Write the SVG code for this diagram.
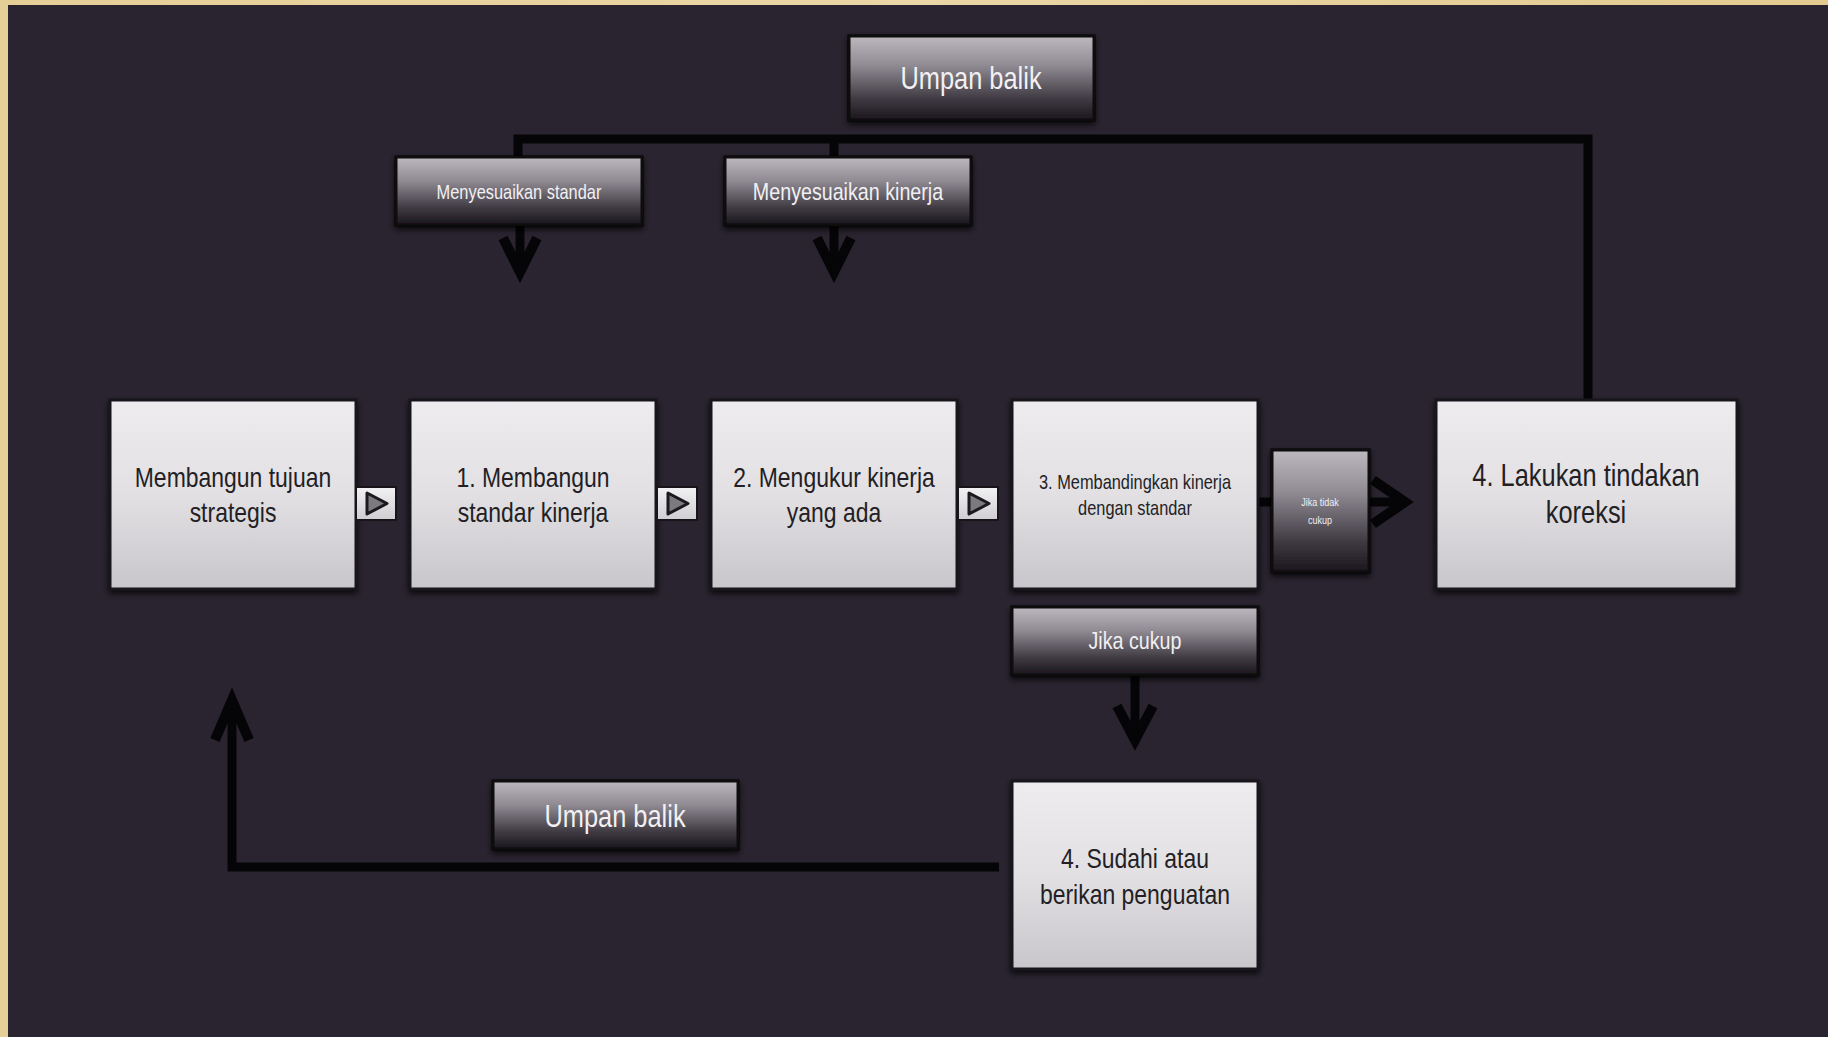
<svg xmlns="http://www.w3.org/2000/svg" width="1828" height="1037" viewBox="0 0 1828 1037">
<defs>
<linearGradient id="gLight" x1="0" y1="0" x2="0" y2="1">
<stop offset="0" stop-color="#eeecef"/>
<stop offset="0.5" stop-color="#e2e0e3"/>
<stop offset="1" stop-color="#c9c6cb"/>
</linearGradient>
<linearGradient id="gDark" x1="0" y1="0" x2="0" y2="1">
<stop offset="0" stop-color="#bdb9bf"/>
<stop offset="0.35" stop-color="#908b93"/>
<stop offset="0.75" stop-color="#3f3a42"/>
<stop offset="1" stop-color="#1a161c"/>
</linearGradient>
<linearGradient id="gBtn" x1="0" y1="0" x2="0" y2="1">
<stop offset="0" stop-color="#f2f1f3"/>
<stop offset="1" stop-color="#cfcdd1"/>
</linearGradient>
<linearGradient id="gTan" x1="0" y1="0" x2="1" y2="0">
<stop offset="0" stop-color="#e6cf97"/>
<stop offset="0.5" stop-color="#ead6a6"/>
<stop offset="1" stop-color="#e3cb90"/>
</linearGradient>
<filter id="sh" x="-10%" y="-10%" width="120%" height="125%">
<feDropShadow dx="0" dy="3" stdDeviation="3" flood-color="#000" flood-opacity="0.8"/>
</filter>
</defs>
<style>
.main{fill:url(#gLight);stroke:#18141a;stroke-width:3;filter:url(#sh)}
.dark{fill:url(#gDark);stroke:#0c0a0d;stroke-width:3;filter:url(#sh)}
.btn{fill:url(#gBtn);stroke:#18141a;stroke-width:2}
.tri{fill:#7c7a7f;stroke:#1c181e;stroke-width:3;stroke-linejoin:round}
.tm{font-family:"Liberation Sans",Arial,sans-serif;fill:#231f25;text-anchor:middle}
.tw{font-family:"Liberation Sans",Arial,sans-serif;fill:#f2f0f3;text-anchor:middle}
.ln{fill:none;stroke:#050406;stroke-width:9;stroke-linejoin:miter}
.ah{fill:none;stroke:#050406;stroke-width:10;stroke-linejoin:miter;stroke-linecap:butt}
</style>
<rect x="0" y="0" width="1828" height="1037" fill="url(#gTan)"/>
<rect x="8" y="5" width="1820" height="1032" fill="#2a2430"/>

<g id="connectors">
<path class="ln" d="M518,161 V139 H1588 V400"/>
<path class="ln" d="M834,161 V139"/>
<path class="ln" d="M520,225 V272"/>
<path class="ah" d="M503,238 L520,272 L537,238"/>
<path class="ln" d="M834,225 V272"/>
<path class="ah" d="M817,238 L834,272 L851,238"/>
<path class="ln" d="M1258,502 H1275"/>
<path class="ln" d="M1369,502 H1402"/>
<path class="ah" d="M1373,480 L1405,502 L1373,524"/>
<path class="ln" d="M1135,675 V740"/>
<path class="ah" d="M1117,706 L1135,740 L1153,706"/>
<path class="ln" d="M999,867 H232 V700"/>
<path class="ah" d="M215,740 L232,700 L249,740"/>
</g>

<g id="n-umpan-top"><rect class="dark" x="849" y="36" width="245" height="84"/><text class="tw" transform="translate(971 89) scale(0.82 1)" font-size="31">Umpan balik</text></g>
<g id="n-sesuai-standar"><rect class="dark" x="396" y="157" width="246" height="68"/><text class="tw" transform="translate(519 199) scale(0.82 1)" font-size="20">Menyesuaikan standar</text></g>
<g id="n-sesuai-kinerja"><rect class="dark" x="725" y="157" width="246" height="68"/><text class="tw" transform="translate(848 200) scale(0.82 1)" font-size="24">Menyesuaikan kinerja</text></g>

<g id="n-tujuan"><rect class="main" x="110" y="400" width="246" height="189"/><text class="tm" transform="translate(233 487) scale(0.82 1)" font-size="28">Membangun tujuan</text><text class="tm" transform="translate(233 522) scale(0.82 1)" font-size="28">strategis</text></g>
<g id="n-standar"><rect class="main" x="410" y="400" width="246" height="189"/><text class="tm" transform="translate(533 487) scale(0.82 1)" font-size="28">1. Membangun</text><text class="tm" transform="translate(533 522) scale(0.82 1)" font-size="28">standar kinerja</text></g>
<g id="n-mengukur"><rect class="main" x="711" y="400" width="246" height="189"/><text class="tm" transform="translate(834 487) scale(0.82 1)" font-size="28">2. Mengukur kinerja</text><text class="tm" transform="translate(834 522) scale(0.82 1)" font-size="28">yang ada</text></g>
<g id="n-banding"><rect class="main" x="1012" y="400" width="246" height="189"/><text class="tm" transform="translate(1135 489) scale(0.82 1)" font-size="20">3. Membandingkan kinerja</text><text class="tm" transform="translate(1135 515) scale(0.82 1)" font-size="20">dengan standar</text></g>
<g id="n-koreksi"><rect class="main" x="1436" y="400" width="301" height="189"/><text class="tm" transform="translate(1586 486) scale(0.82 1)" font-size="31">4. Lakukan tindakan</text><text class="tm" transform="translate(1586 523) scale(0.82 1)" font-size="31">koreksi</text></g>

<g id="b1"><rect class="btn" x="356" y="487" width="40" height="33"/><path class="tri" d="M367,493 L387,503.5 L367,514 Z"/></g>
<g id="b2"><rect class="btn" x="657" y="487" width="40" height="33"/><path class="tri" d="M668,493 L688,503.5 L668,514 Z"/></g>
<g id="b3"><rect class="btn" x="958" y="487" width="40" height="33"/><path class="tri" d="M969,493 L989,503.5 L969,514 Z"/></g>

<g id="n-tidak-cukup"><rect class="dark" x="1272" y="450" width="97" height="122" stroke="#9a969c" stroke-width="2"/><text class="tw" transform="translate(1320 506) scale(0.82 1)" font-size="11">Jika tidak</text><text class="tw" transform="translate(1320 524) scale(0.82 1)" font-size="11">cukup</text></g>
<g id="n-cukup"><rect class="dark" x="1012" y="607" width="246" height="68"/><text class="tw" transform="translate(1135 649) scale(0.82 1)" font-size="24">Jika cukup</text></g>
<g id="n-sudahi"><rect class="main" x="1012" y="781" width="246" height="188"/><text class="tm" transform="translate(1135 868) scale(0.82 1)" font-size="28">4. Sudahi atau</text><text class="tm" transform="translate(1135 904) scale(0.82 1)" font-size="28">berikan penguatan</text></g>
<g id="n-umpan-bottom"><rect class="dark" x="493" y="781" width="245" height="68"/><text class="tw" transform="translate(615 827) scale(0.82 1)" font-size="31">Umpan balik</text></g>
</svg>
